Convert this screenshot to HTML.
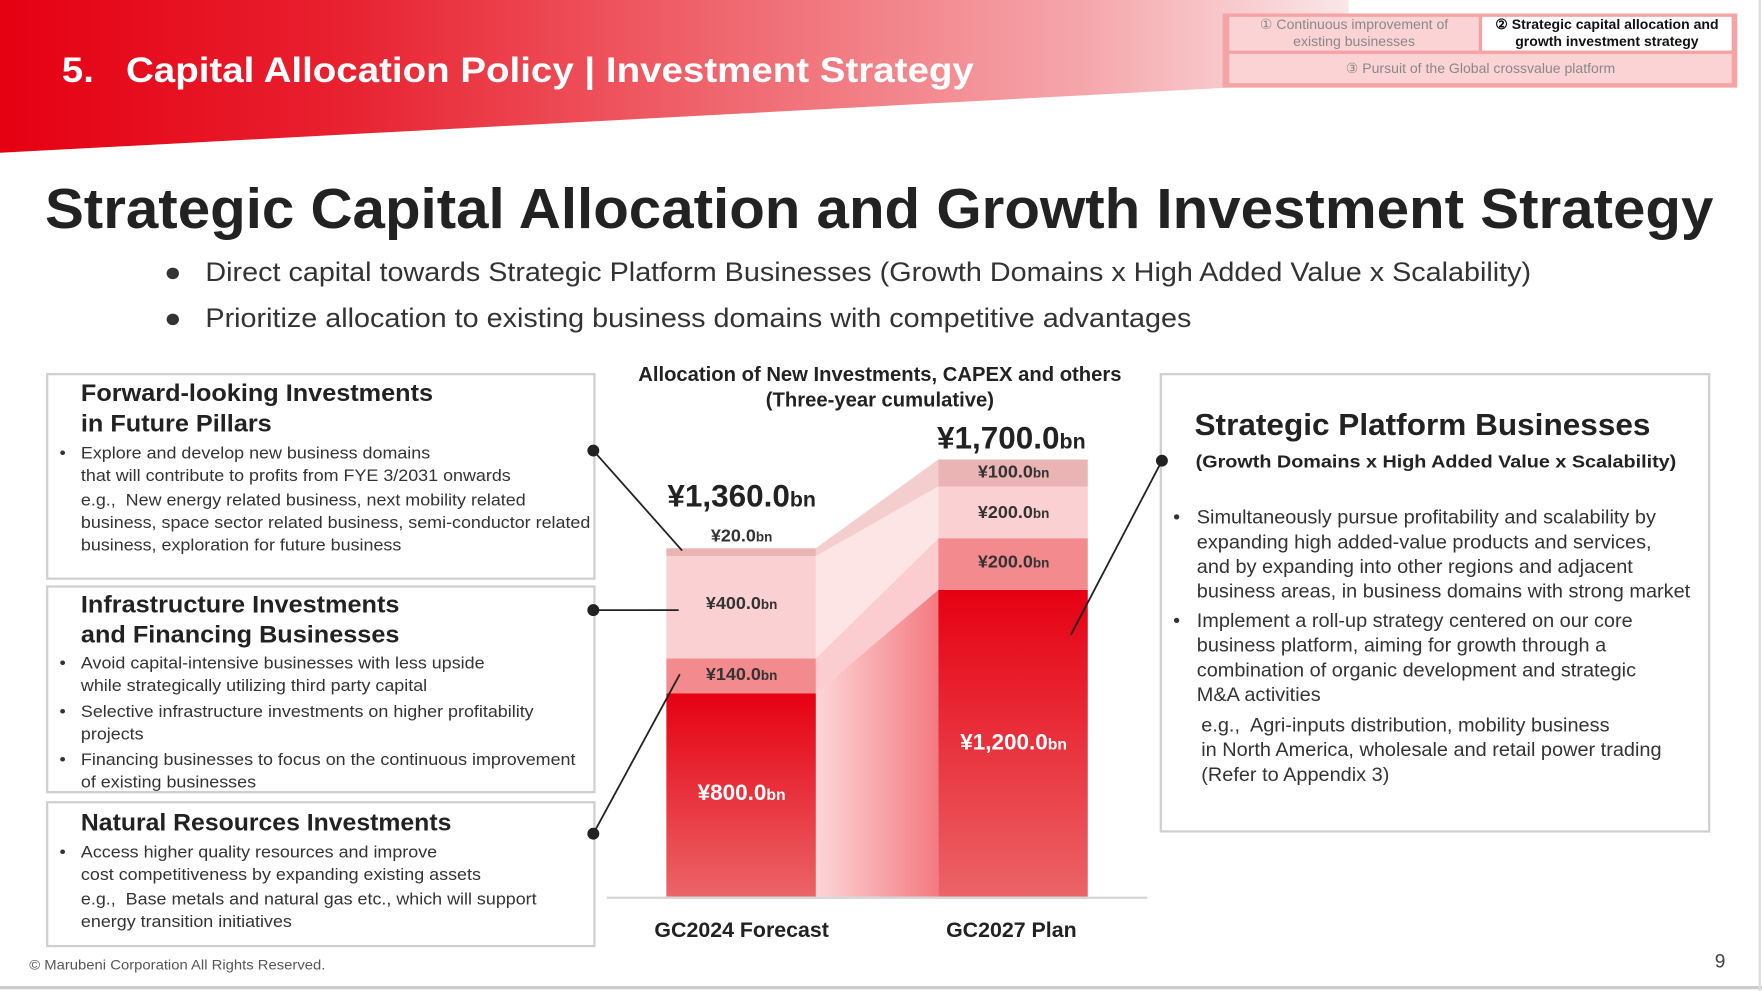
<!DOCTYPE html>
<html><head><meta charset="utf-8"><style>
html,body{margin:0;padding:0;background:#fff;overflow:hidden}
#wrap{width:1762px;height:991px;overflow:hidden;position:relative}
#pg{position:absolute;left:0;top:0;width:1568px;height:882px;transform:scale(1.12372,1.12358);transform-origin:0 0;font-family:"Liberation Sans",sans-serif;color:#222}
.t{position:absolute;white-space:nowrap;transform-origin:0 0}
.b{font-weight:bold}
.box{position:absolute;border:2px solid #cfcfcf;box-sizing:border-box;background:#fff}
.s{font-size:15px;line-height:20px;color:#333;transform:scaleX(1.062)}
.r{font-size:17px;line-height:22px;color:#333;transform:scaleX(1.042)}
.lab{font-weight:bold;font-size:16px;color:#333;text-align:center;position:absolute;white-space:nowrap}
.lab small{font-size:12px}
</style></head><body><div id="wrap"><div id="pg">
<svg width="1568" height="882" style="position:absolute;left:0;top:0">
<defs>
<linearGradient id="hg" x1="0" x2="1" y1="0" y2="0">
<stop offset="0" stop-color="#e50012"/><stop offset="0.25" stop-color="#e8202f"/><stop offset="0.55" stop-color="#f06a72"/><stop offset="0.8" stop-color="#f5a5aa"/><stop offset="1" stop-color="#fbe6e7"/></linearGradient>
<linearGradient id="rg" x1="0" y1="0" x2="0" y2="1"><stop offset="0" stop-color="#e60012"/><stop offset="1" stop-color="#eb6468"/></linearGradient>
<linearGradient id="fg" x1="0" y1="0" x2="1" y2="0"><stop offset="0" stop-color="#fcd6d8"/><stop offset="1" stop-color="#f37a80"/></linearGradient>
</defs>
<polygon points="0,0 1200,0 1200,70 1112,77 0,136" fill="url(#hg)"/>
<line x1="0" y1="879" x2="1568" y2="879" stroke="#ccc" stroke-width="3"/>
<line x1="1566" y1="0" x2="1566" y2="882" stroke="#ddd" stroke-width="2"/>
<polygon points="726,617 835,525 835,798 726,798" fill="url(#fg)"/>
<polygon points="726,586 835,479 835,525 726,617" fill="#fbcdd0"/>
<polygon points="726,495 835,433 835,479 726,586" fill="#fde5e6"/>
<polygon points="726,488 835,409 835,433 726,495" fill="#f4cdcf"/>
<rect x="593" y="617" width="133" height="181" fill="url(#rg)"/>
<rect x="593" y="586" width="133" height="31" fill="#f38a8d"/>
<rect x="593" y="495" width="133" height="91" fill="#fbd0d2"/>
<rect x="593" y="488" width="133" height="7" fill="#eab3b4"/>
<rect x="835" y="525" width="133" height="273" fill="url(#rg)"/>
<rect x="835" y="479" width="133" height="46" fill="#f38a8d"/>
<rect x="835" y="433" width="133" height="46" fill="#fbd0d2"/>
<rect x="835" y="409" width="133" height="24" fill="#eab3b4"/>
<line x1="540" y1="799" x2="1021" y2="799" stroke="#d5d5d5" stroke-width="2"/>
</svg>
<div class="t b" style="left:55px;top:43px;font-size:31px;line-height:40px;color:#fff;transform:scaleX(1.105)">5.&nbsp;&nbsp;&nbsp;Capital Allocation Policy | Investment Strategy</div>
<div style="position:absolute;left:1088px;top:12px;width:458px;height:66px;background:#f6a3a6"></div>
<div style="position:absolute;left:1094px;top:15px;width:222px;height:30px;background:#fcd3d4"></div>
<div style="position:absolute;left:1319px;top:15px;width:222px;height:30px;background:#fff"></div>
<div style="position:absolute;left:1094px;top:48px;width:447px;height:26px;background:#fcd3d4"></div>
<div class="t" style="left:1094px;top:15px;width:222px;text-align:center;font-size:12.5px;line-height:15px;color:#888">① Continuous improvement of<br>existing businesses</div>
<div class="t b" style="left:1319px;top:15px;width:222px;text-align:center;font-size:12.5px;line-height:15px;color:#111">② Strategic capital allocation and<br>growth investment strategy</div>
<div class="t" style="left:1094px;top:53px;width:447px;text-align:center;font-size:12.5px;line-height:16px;color:#888">③ Pursuit of the Global crossvalue platform</div>
<div class="t b" style="left:40px;top:155px;font-size:50px;line-height:62px;color:#222;transform:scaleX(1.037)">Strategic Capital Allocation and Growth Investment Strategy</div>
<div class="t" style="left:146px;top:228px;font-size:24px;line-height:30px;color:#333;transform:scaleX(1.066)">●&nbsp;&nbsp;&nbsp;Direct capital towards Strategic Platform Businesses (Growth Domains x High Added Value x Scalability)</div>
<div class="t" style="left:146px;top:269px;font-size:24px;line-height:30px;color:#333;transform:scaleX(1.066)">●&nbsp;&nbsp;&nbsp;Prioritize allocation to existing business domains with competitive advantages</div>
<div class="box" style="left:41px;top:332px;width:489px;height:184px"></div>
<div class="box" style="left:41px;top:521px;width:489px;height:185px"></div>
<div class="box" style="left:41px;top:713px;width:489px;height:130px"></div>
<div class="t b" style="left:72px;top:337px;font-size:21px;line-height:27px;color:#222;transform:scaleX(1.07)">Forward-looking Investments<br>in Future Pillars</div>
<div class="t s" style="left:53px;top:394px">•</div>
<div class="t s" style="left:72px;top:394px">Explore and develop new business domains<br>that will contribute to profits from FYE 3/2031 onwards</div>
<div class="t s" style="left:72px;top:436px">e.g.,&nbsp; New energy related business, next mobility related<br>business, space sector related business, semi-conductor related<br>business, exploration for future business</div>
<div class="t b" style="left:72px;top:525px;font-size:21px;line-height:27px;color:#222;transform:scaleX(1.07)">Infrastructure Investments<br>and Financing Businesses</div>
<div class="t s" style="left:53px;top:581px">•</div>
<div class="t s" style="left:72px;top:581px">Avoid capital-intensive businesses with less upside<br>while strategically utilizing third party capital</div>
<div class="t s" style="left:53px;top:624px">•</div>
<div class="t s" style="left:72px;top:624px">Selective infrastructure investments on higher profitability<br>projects</div>
<div class="t s" style="left:53px;top:667px">•</div>
<div class="t s" style="left:72px;top:667px">Financing businesses to focus on the continuous improvement<br>of existing businesses</div>
<div class="t b" style="left:72px;top:719px;font-size:21px;line-height:27px;color:#222;transform:scaleX(1.05)">Natural Resources Investments</div>
<div class="t s" style="left:53px;top:749px">•</div>
<div class="t s" style="left:72px;top:749px">Access higher quality resources and improve<br>cost competitiveness by expanding existing assets</div>
<div class="t s" style="left:72px;top:791px">e.g.,&nbsp; Base metals and natural gas etc., which will support<br>energy transition initiatives</div>
<div class="t b" style="left:533px;top:322px;width:500px;text-align:center;font-size:18px;line-height:23px;color:#222">Allocation of New Investments, CAPEX and others<br>(Three-year cumulative)</div>
<div class="lab" style="left:560px;top:426px;width:200px;font-size:28px;color:#222">¥1,360.0<small style="font-size:19px">bn</small></div>
<div class="lab" style="left:800px;top:374px;width:200px;font-size:28px;color:#222">¥1,700.0<small style="font-size:19px">bn</small></div>
<div class="lab" style="left:560px;top:469px;width:200px">¥20.0<small>bn</small></div>
<div class="lab" style="left:560px;top:529px;width:200px">¥400.0<small>bn</small></div>
<div class="lab" style="left:560px;top:592px;width:200px">¥140.0<small>bn</small></div>
<div class="lab" style="left:560px;top:695px;width:200px;font-size:20px;color:#fff">¥800.0<small style="font-size:14px">bn</small></div>
<div class="lab" style="left:802px;top:412px;width:200px">¥100.0<small>bn</small></div>
<div class="lab" style="left:802px;top:448px;width:200px">¥200.0<small>bn</small></div>
<div class="lab" style="left:802px;top:492px;width:200px">¥200.0<small>bn</small></div>
<div class="lab" style="left:802px;top:650px;width:200px;font-size:20px;color:#fff">¥1,200.0<small style="font-size:14px">bn</small></div>
<div class="t b" style="left:560px;top:817px;width:200px;text-align:center;font-size:19px;line-height:24px;color:#222">GC2024 Forecast</div>
<div class="t b" style="left:800px;top:817px;width:200px;text-align:center;font-size:19px;line-height:24px;color:#222">GC2027 Plan</div>
<div class="box" style="left:1032px;top:332px;width:490px;height:409px"></div>
<div class="t b" style="left:1063px;top:361px;font-size:27px;line-height:34px;color:#222;transform:scaleX(1.04)">Strategic Platform Businesses</div>
<div class="t b" style="left:1064px;top:401px;font-size:16px;line-height:21px;color:#222;transform:scaleX(1.1)">(Growth Domains x High Added Value x Scalability)</div>
<div class="t r" style="left:1044px;top:450px">•</div>
<div class="t r" style="left:1065px;top:450px">Simultaneously pursue profitability and scalability by<br>expanding high added-value products and services,<br>and by expanding into other regions and adjacent<br>business areas, in business domains with strong market</div>
<div class="t r" style="left:1044px;top:542px">•</div>
<div class="t r" style="left:1065px;top:542px">Implement a roll-up strategy centered on our core<br>business platform, aiming for growth through a<br>combination of organic development and strategic<br>M&amp;A activities</div>
<div class="t r" style="left:1069px;top:635px">e.g.,&nbsp; Agri-inputs distribution, mobility business<br>in North America, wholesale and retail power trading<br>(Refer to Appendix 3)</div>
<svg width="1568" height="882" style="position:absolute;left:0;top:0">
<g stroke="#222" stroke-width="1.6" fill="#222">
<line x1="528" y1="401" x2="607" y2="490"/><circle cx="528" cy="401" r="4.5"/>
<line x1="528" y1="543" x2="604" y2="543"/><circle cx="528" cy="543" r="4.5"/>
<line x1="528" y1="742" x2="605" y2="600"/><circle cx="528" cy="742" r="4.5"/>
<line x1="1034" y1="410" x2="953" y2="565"/><circle cx="1034" cy="410" r="4.5"/>
</g>
</svg>
<div class="t" style="left:26px;top:851px;font-size:12px;line-height:16px;color:#555;transform:scaleX(1.1)">© Marubeni Corporation All Rights Reserved.</div>
<div class="t" style="left:1526px;top:845px;font-size:17px;line-height:22px;color:#444">9</div>
</div></div></body></html>
